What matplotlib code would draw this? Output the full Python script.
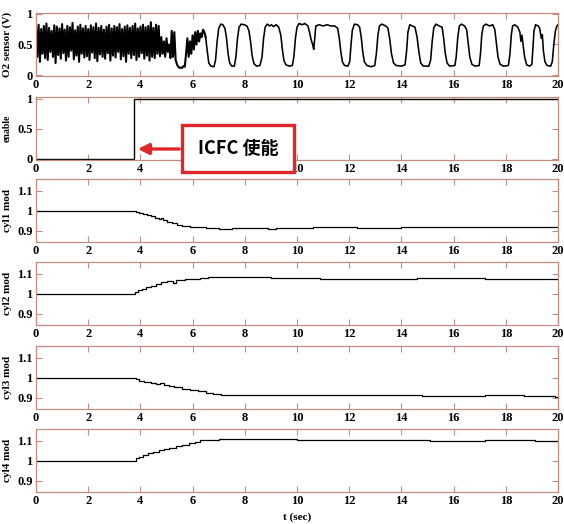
import numpy as np
import matplotlib
matplotlib.use("Agg")
import matplotlib.pyplot as plt
from matplotlib.patches import Rectangle, FancyArrowPatch

# ---------------- data ----------------
# O2 sensor: fast-switching part sampled every 0.05 s from t = 0
o2_fast_dt = 0.05
o2_fast = [
    0.78, 0.30, 0.82, 0.22, 0.75, 0.35, 0.80, 0.28, 0.84, 0.25, 0.77, 0.38, 0.72, 0.30, 0.81, 0.20,
    0.79, 0.33, 0.76, 0.27, 0.83, 0.36, 0.74, 0.24, 0.80, 0.30, 0.78, 0.40, 0.85, 0.26, 0.73, 0.32,
    0.79, 0.22, 0.82, 0.35, 0.76, 0.29, 0.80, 0.31, 0.75, 0.25, 0.81, 0.37, 0.78, 0.28, 0.84, 0.23,
    0.77, 0.34, 0.80, 0.30, 0.74, 0.27, 0.79, 0.36, 0.82, 0.24, 0.76, 0.32, 0.80, 0.29, 0.78, 0.38,
    0.83, 0.26, 0.75, 0.31, 0.79, 0.22, 0.81, 0.35, 0.77, 0.28, 0.80, 0.33, 0.84, 0.25, 0.76, 0.30,
    0.79, 0.36, 0.82, 0.27, 0.78, 0.32, 0.80, 0.24, 0.86, 0.30, 0.77, 0.28, 0.82, 0.35, 0.80, 0.31,
    0.62, 0.35, 0.55, 0.30, 0.60, 0.38, 0.50, 0.28, 0.72, 0.30, 0.70, 0.25, 0.18, 0.14, 0.12, 0.13,
    0.12, 0.15, 0.14, 0.35, 0.60, 0.30, 0.55, 0.35, 0.65, 0.42, 0.70, 0.50, 0.72, 0.55, 0.68, 0.62,
    0.74, 0.70,
]
# O2 sensor: slow limit-cycle part, breakpoints (t, V)
o2_slow_t = [6.5, 6.56, 6.62, 6.7, 6.82, 6.88, 6.94, 7.0, 7.08, 7.16, 7.24, 7.3, 7.36, 7.42, 7.5, 7.6,
             7.66, 7.72, 7.78, 7.86, 7.98, 8.08, 8.16, 8.22, 8.28, 8.35, 8.45, 8.58, 8.66, 8.72, 8.78,
             8.86, 8.95, 9.02, 9.1, 9.2, 9.3, 9.38, 9.44, 9.5, 9.58, 9.7, 9.82, 9.88, 9.94, 10.0,
             10.08, 10.2, 10.3, 10.42, 10.48, 10.54, 10.6, 10.64, 10.68, 10.72, 10.85, 11.0, 11.15,
             11.3, 11.45, 11.56, 11.62, 11.68, 11.74, 11.82, 11.95, 12.02, 12.07, 12.12, 12.2, 12.32,
             12.4, 12.46, 12.52, 12.58, 12.68, 12.85, 12.98, 13.04, 13.1, 13.16, 13.25, 13.4, 13.48,
             13.55, 13.62, 13.7, 13.8, 14.0, 14.14, 14.2, 14.25, 14.32, 14.42, 14.52, 14.6, 14.67,
             14.74, 14.84, 15.05, 15.12, 15.18, 15.24, 15.32, 15.45, 15.56, 15.62, 15.68, 15.75,
             15.85, 16.05, 16.1, 16.16, 16.22, 16.3, 16.42, 16.5, 16.56, 16.62, 16.7, 16.82, 16.98,
             17.03, 17.08, 17.14, 17.24, 17.38, 17.5, 17.58, 17.64, 17.7, 17.78, 17.9, 18.1, 18.16,
             18.21, 18.26, 18.34, 18.46, 18.54, 18.58, 18.62, 18.66, 18.72, 18.8, 18.92, 19.0, 19.04,
             19.08, 19.14, 19.24, 19.3, 19.36, 19.4, 19.44, 19.5, 19.58, 19.72, 19.78, 19.84, 19.9,
             19.96, 20.0]
o2_slow_v = [0.62, 0.40, 0.20, 0.15, 0.14, 0.25, 0.55, 0.76, 0.83, 0.82, 0.76, 0.60, 0.35, 0.20, 0.15, 0.15,
             0.30, 0.60, 0.78, 0.83, 0.82, 0.80, 0.72, 0.55, 0.32, 0.19, 0.15, 0.16, 0.30, 0.60, 0.78,
             0.83, 0.80, 0.82, 0.79, 0.82, 0.78, 0.65, 0.42, 0.24, 0.17, 0.15, 0.16, 0.30, 0.60, 0.78,
             0.84, 0.82, 0.84, 0.80, 0.70, 0.58, 0.50, 0.42, 0.60, 0.80, 0.82, 0.80, 0.82,
             0.80, 0.80, 0.76, 0.60, 0.38, 0.22, 0.16, 0.15, 0.22, 0.50, 0.73, 0.83, 0.82,
             0.78, 0.62, 0.38, 0.22, 0.16, 0.14, 0.16, 0.35, 0.65, 0.80, 0.83, 0.80, 0.77,
             0.60, 0.35, 0.20, 0.16, 0.15, 0.17, 0.40, 0.70, 0.82, 0.80, 0.78, 0.62, 0.38,
             0.20, 0.15, 0.15, 0.25, 0.55, 0.77, 0.83, 0.80, 0.78, 0.60, 0.36, 0.20,
             0.15, 0.16, 0.30, 0.62, 0.80, 0.83, 0.80, 0.74, 0.52, 0.30, 0.18, 0.15, 0.16,
             0.35, 0.66, 0.80, 0.83, 0.80, 0.82, 0.74, 0.52, 0.30, 0.18, 0.15, 0.16, 0.35,
             0.65, 0.80, 0.82, 0.78, 0.70, 0.55, 0.65, 0.50, 0.30, 0.17, 0.15, 0.18, 0.45,
             0.72, 0.82, 0.80, 0.76, 0.60, 0.66, 0.40, 0.22, 0.16, 0.15, 0.22, 0.50, 0.72,
             0.80, 0.82]

# ICFC enable flag
enable_t = [0.0, 3.77, 20.0]
enable_v = [0.0, 1.0, 1.0]

# cylinder correction factors (step breakpoints)
cyl1_t = [0, 3.82, 3.95, 4.1, 4.25, 4.4, 4.55, 4.7, 4.78, 4.85, 5.0, 5.2, 5.4, 5.6, 5.9, 6.2, 6.5,
          6.6, 6.75, 7.0, 7.5, 8.0, 8.9, 9.2, 10.6, 11.8, 11.9, 12.3, 14.0, 15.8, 15.9, 18.6, 20.0]
cyl1_v = [1.0, 0.995, 0.99, 0.985, 0.978, 0.972, 0.965, 0.958, 0.966, 0.955, 0.945, 0.937, 0.930, 0.925,
          0.920, 0.917, 0.912, 0.916, 0.912, 0.911, 0.914, 0.914, 0.910, 0.913, 0.917, 0.921, 0.917,
          0.915, 0.918, 0.921, 0.918, 0.920, 0.920]
cyl2_t = [0, 3.8, 3.9, 4.05, 4.2, 4.4, 4.6, 4.8, 5.0, 5.25, 5.35, 5.45, 5.7, 6.0, 6.3, 6.6, 9.0,
          10.9, 14.6, 17.2, 18.1, 19.1, 20.0]
cyl2_v = [1.0, 1.01, 1.018, 1.025, 1.032, 1.04, 1.048, 1.056, 1.063, 1.055, 1.066, 1.068, 1.072,
          1.075, 1.078, 1.081, 1.078, 1.075, 1.077, 1.074, 1.071, 1.075, 1.075]
cyl3_t = [0, 3.82, 3.95, 4.15, 4.4, 4.6, 4.75, 4.9, 5.1, 5.3, 5.6, 5.9, 6.2, 6.5, 6.8, 7.1, 7.3,
          12.5, 12.6, 14.8, 17.2, 18.7, 19.9, 20.0]
cyl3_v = [1.0, 0.992, 0.985, 0.98, 0.975, 0.97, 0.974, 0.965, 0.958, 0.952, 0.945, 0.938, 0.932,
          0.926, 0.92, 0.916, 0.913, 0.916, 0.913, 0.91, 0.913, 0.91, 0.906, 0.906]
cyl4_t = [0, 3.82, 3.95, 4.1, 4.3, 4.5, 4.7, 4.9, 5.1, 5.35, 5.6, 5.85, 6.1, 6.3, 6.6, 7.0, 7.7,
          10.0, 12.5, 15.1, 17.2, 19.1, 20.0]
cyl4_v = [1.0, 1.012, 1.02, 1.028, 1.036, 1.044, 1.052, 1.058, 1.065, 1.072, 1.08, 1.088, 1.095,
          1.101, 1.105, 1.108, 1.106, 1.104, 1.103, 1.1, 1.102, 1.1, 1.1]

ylabels = ["O2 sensor (V)", "enable", "cyl1 mod", "cyl2 mod", "cyl3 mod", "cyl4 mod"]
xticks = [0, 2, 4, 6, 8, 10, 12, 14, 16, 18, 20]
o2_ticks, o2_ticklabels = [0, 0.5, 1], ["0", "0.5", "1"]
cyl_ticks, cyl_ticklabels = [0.9, 1.0, 1.1], ["0.9", "1", "1.1"]
annot_text = "ICFC 使能"
xlabel = "t (sec)"

# ---------------- figure ----------------
W, H = 564, 524
fig = plt.figure(figsize=(W / 100, H / 100), dpi=100)
frame_col = "#bf8e7e"
serif = "Liberation Serif"

def px_axes(top, height=63, left=36, right=558):
    return [left / W, 1 - (top + height) / H, (right - left) / W, height / H]

tops = [13, 97, 179, 262, 346, 429]
axes = [fig.add_axes(px_axes(t)) for t in tops]

o2_t = [i * o2_fast_dt for i in range(len(o2_fast))]
# fast switching block drawn a little heavier, then the slow oscillation
axes[0].plot(o2_t + o2_slow_t[:1], o2_fast + o2_slow_v[:1], color="black", lw=1.5)
axes[0].plot(o2_slow_t, o2_slow_v, color="black", lw=1.15)
axes[1].plot(enable_t, enable_v, color="black", lw=1.0, drawstyle="steps-post")
for ax, (tt, vv) in zip(axes[2:], [(cyl1_t, cyl1_v), (cyl2_t, cyl2_v), (cyl3_t, cyl3_v), (cyl4_t, cyl4_v)]):
    ax.plot(tt, vv, color="black", lw=0.9, drawstyle="steps-post")

for i, ax in enumerate(axes):
    ax.set_xlim(0, 20)
    ax.set_xticks(xticks)
    ax.set_xticklabels([str(x) for x in xticks], fontfamily=serif, fontweight="bold", fontsize=9)
    if i == 0:
        ax.set_ylim(-0.01, 1.01)
        ax.set_yticks(o2_ticks)
        ax.set_yticklabels(o2_ticklabels, fontfamily=serif, fontweight="bold", fontsize=9)
    elif i == 1:
        ax.set_ylim(-0.025, 1.025)
        ax.set_yticks(o2_ticks)
        ax.set_yticklabels(o2_ticklabels, fontfamily=serif, fontweight="bold", fontsize=9)
    else:
        ax.set_ylim(0.845, 1.157)
        ax.set_yticks(cyl_ticks)
        ax.set_yticklabels(cyl_ticklabels, fontfamily=serif, fontweight="bold", fontsize=9)
    ax.tick_params(direction="in", length=4, width=0.8, color=frame_col, top=True, right=True,
                   pad=2.5)
    for s in ax.spines.values():
        s.set_color(frame_col)
        s.set_linewidth(0.9)
    ax.set_ylabel(ylabels[i], fontfamily=serif, fontweight="bold", fontsize=8 if i != 1 else 7)
    ax.yaxis.set_label_coords(-24 / 522, 0.5)

fig.text(297 / W, 1 - 517 / H, xlabel, ha="center", va="center",
         fontfamily=serif, fontweight="bold", fontsize=8)

# annotation: red box and arrow
bx0, bx1, by0, by1 = 182, 294, 125, 172
red = "#e0262b"
rect = Rectangle((bx0 / W, 1 - by1 / H), (bx1 - bx0) / W, (by1 - by0) / H,
                 transform=fig.transFigure, facecolor="white", edgecolor=red, lw=2.4, zorder=10)
fig.add_artist(rect)
fig.text((bx0 + bx1) / 2 / W, 1 - 148 / H, annot_text, ha="center", va="center",
         fontfamily=["Noto Sans CJK SC", "DejaVu Sans"], fontweight="bold", fontsize=13, zorder=11)
arrow = FancyArrowPatch((bx0 / W, 1 - 149 / H), (135 / W, 1 - 149 / H), transform=fig.transFigure,
                        arrowstyle="-|>", mutation_scale=16, color=red, lw=2.4, zorder=10)
fig.add_artist(arrow)

fig.savefig("out.png", dpi=100, facecolor="white")
